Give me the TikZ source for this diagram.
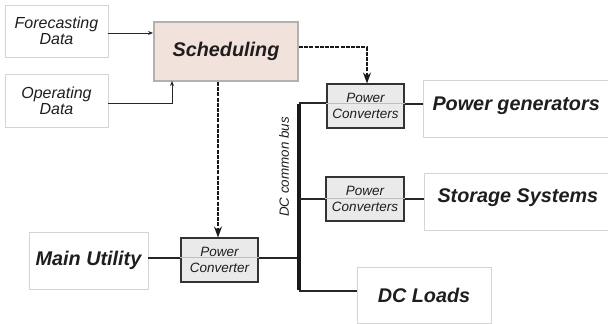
\documentclass[tikz,border=0pt]{standalone}
\usepackage{fontspec}
\setmainfont{Liberation Sans}
\usetikzlibrary{arrows.meta}
\definecolor{schedfill}{RGB}{242,226,220}
\definecolor{schedline}{RGB}{178,178,178}
\definecolor{pcfill}{RGB}{234,234,234}
\definecolor{boxline}{RGB}{212,212,212}
\definecolor{txt}{RGB}{30,30,30}
\begin{document}
\begin{tikzpicture}[x=1pt,y=-1pt,
  databox/.style={draw=boxline,line width=0.8pt,fill=white,inner sep=0pt,align=center,
    font=\fontsize{16}{17}\selectfont\itshape,text=txt},
  bigbox/.style={draw=boxline,line width=0.8pt,fill=white,inner sep=0pt,
    font=\fontsize{19.8}{22}\selectfont\bfseries\itshape,text=txt},
  pcbox/.style={draw=black!80,line width=1.1pt,fill=pcfill,inner sep=0pt,align=center,
    font=\fontsize{13.5}{16}\selectfont\itshape,text=txt},
  schedbox/.style={draw=schedline,line width=2pt,fill=schedfill,inner sep=0pt,
    font=\fontsize{19.8}{22}\selectfont\bfseries\itshape,text=txt},
  wire/.style={line width=1.1pt,draw=black!85},
  bus/.style={line width=4pt,draw=black!90},
  ctrl/.style={line width=1.3pt,draw=black!90,dash pattern=on 4pt off 1.2pt,-{Stealth[length=11pt,width=8pt]}},
  feed/.style={line width=0.8pt,draw=black!85,-{Stealth[length=5pt,width=4pt]}}]
\useasboundingbox (0,0) rectangle (608,324);
% data boxes
\node[databox,minimum width=103pt,minimum height=52pt] (fc) at (56.5,31) {Forecasting\\[-1pt]Data};
\node[databox,minimum width=103pt,minimum height=53pt] (op) at (56.5,100.5) {Operating\\[-1pt]Data};
\node[schedbox,minimum width=144pt,minimum height=59pt] (sch) at (226,51.5) {Scheduling};
% power converters
\node[pcbox,minimum width=77pt,minimum height=44pt] (pc1) at (365.5,106) {Power\\Converters};
\node[pcbox,minimum width=78pt,minimum height=44pt] (pc2) at (365,199) {Power\\Converters};
\node[pcbox,minimum width=77pt,minimum height=44pt] (pcm) at (219.5,260) {Power\\Converter};
\draw[white!75!black,line width=0.4pt] (pc1.west|-0,103) -- (pc1.east|-0,103);
\draw[white!75!black,line width=0.4pt] (pc2.west|-0,198) -- (pc2.east|-0,198);
\draw[white!75!black,line width=0.4pt] (pcm.west|-0,257) -- (pcm.east|-0,257);
% big boxes
\node[bigbox,minimum width=190pt,minimum height=57pt,anchor=west] (gen) at (423,108.5) {};
\node[font=\fontsize{19.8}{22}\selectfont\bfseries\itshape,text=txt,anchor=west] (gent) at (429,106) {Power generators};
\node[bigbox,minimum width=190pt,minimum height=57pt,anchor=west] (sto) at (424,201.5) {};
\node[font=\fontsize{19.8}{22}\selectfont\bfseries\itshape,text=txt,anchor=west] (stot) at (434,198) {Storage Systems};
\node[bigbox,minimum width=134pt,minimum height=56pt] (load) at (424,295) {DC Loads};
\node[bigbox,minimum width=119pt,minimum height=57pt] (mu) at (88.5,260.5) {Main Utility};
% bus
\coordinate (bt) at (298.5,103);
\coordinate (bb) at (298.5,291);
\draw[bus] ([yshift=-0.6pt]bt) -- ([yshift=0.6pt]bb);
\node[rotate=90,font=\fontsize{13.4}{14}\selectfont\itshape,text=txt] (buslbl) at (284,167) {DC common bus};
% wires
\draw[wire] (bt) -- (pc1.west|-bt);
\draw[wire] (pc1.east|-0,104) -- (gen.west|-0,104);
\draw[wire] (298.5,199) -- (pc2.west|-0,199);
\draw[wire] (pc2.east|-0,199) -- (sto.west|-0,199);
\draw[wire] (bb) -- (load.west|-bb);
\draw[wire] (mu.east|-0,258) -- (pcm.west|-0,258);
\draw[wire] (pcm.east|-0,258) -- (297,258);
% data feeds
\draw[feed] (fc.east|-0,33) -- (sch.west|-0,33);
\draw[feed] (op.east|-0,103) -- (172,103) -- (172,81);
% control lines
\draw[ctrl] (sch.south-|218,0) -- (pcm.north-|218,0);
\draw[ctrl] (sch.east|-0,47) -- (367,47) -- (pc1.north-|367,0);
\end{tikzpicture}
\end{document}
